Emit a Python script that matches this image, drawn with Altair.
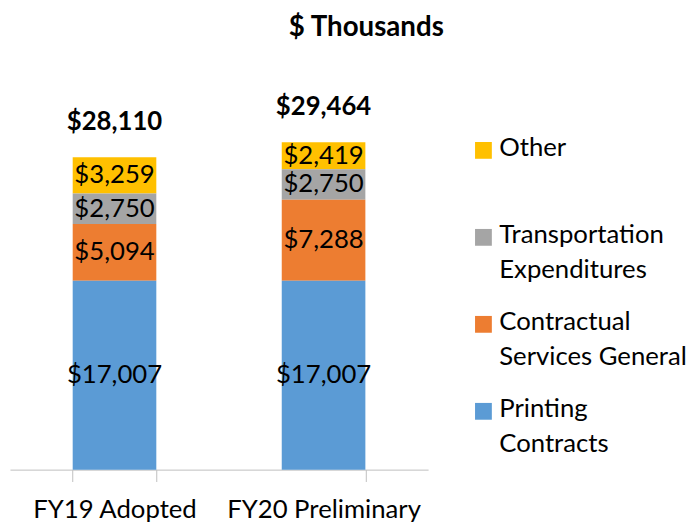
import altair as alt
import pandas as pd

categories = ["FY19 Adopted", "FY20 Preliminary"]
series = ["Other", "Transportation Expenditures", "Contractual Services General", "Printing Contracts"]
colors = ["#FFC000", "#A5A5A5", "#ED7D31", "#5B9BD5"]
stack_order = [3, 2, 1, 0]
values = {
    "Printing Contracts": [17007, 17007],
    "Contractual Services General": [5094, 7288],
    "Transportation Expenditures": [2750, 2750],
    "Other": [3259, 2419],
}
totals = [28110, 29464]

rows = []
for s, o in zip(series, stack_order):
    for c, v in zip(categories, values[s]):
        rows.append({"cat": c, "series": s, "value": v, "ord": o})
df = pd.DataFrame(rows)
tot_df = pd.DataFrame({"cat": categories, "total": totals})

FONT = "Lato"
ymax = 36650
LEG_DY = -15

x_enc = alt.X("cat:N", sort=categories, title=None,
              scale=alt.Scale(paddingInner=0.6, paddingOuter=0.3),
              axis=alt.Axis(labelFontSize=26, labelColor="black", labelFont=FONT,
                            domainColor="#BFBFBF", tickColor="#BFBFBF", tickSize=12,
                            tickBand="extent", labelPadding=15 - LEG_DY, labelAngle=0,
                            labelLimit=400))
y_scale = alt.Scale(domain=[0, ymax])

label_expr = ("datum.label == 'Other' ? ['Other', ' '] : "
              "datum.label == 'Transportation Expenditures' ? ['Transportation', 'Expenditures'] : "
              "datum.label == 'Contractual Services General' ? ['Contractual', 'Services General'] : "
              "['Printing', 'Contracts']")

bars = alt.Chart(df).mark_bar().encode(
    x=x_enc,
    y=alt.Y("value:Q", stack="zero", scale=y_scale, axis=None),
    color=alt.Color("series:N", scale=alt.Scale(domain=series, range=colors),
                    legend=alt.Legend(title=None, orient="none", legendX=466, legendY=76,
                                      symbolType="square", symbolSize=289, symbolStrokeWidth=0,
                                      labelFontSize=26, labelFont=FONT, labelColor="black",
                                      labelOffset=3, labelLimit=300, rowPadding=27,
                                      labelBaseline="top", padding=0, labelExpr=label_expr)),
    order=alt.Order("ord:Q"),
)

seg_text = alt.Chart(df).mark_text(fontSize=26, font=FONT, color="black", baseline="middle").encode(
    x=alt.X("cat:N", sort=categories),
    y=alt.Y("value:Q", stack="zero", bandPosition=0.5, scale=y_scale),
    text=alt.Text("value:Q", format="$,.0f"),
    order=alt.Order("ord:Q"),
)

tot_text = alt.Chart(tot_df).mark_text(fontSize=26, font=FONT, fontWeight="bold", color="black",
                                        baseline="alphabetic", dy=-28).encode(
    x=alt.X("cat:N", sort=categories),
    y=alt.Y("total:Q", scale=y_scale),
    text=alt.Text("total:Q", format="$,.0f"),
)

chart = alt.layer(bars, seg_text, tot_text).properties(
    width=423, height=412,
    title=alt.Title("$ Thousands", fontSize=28, font=FONT, fontWeight="bold", color="black",
                    anchor="middle", dx=149, offset=21),
    autosize=alt.AutoSizeParams(type="none"),
    padding={"left": 2, "top": 52, "right": 267, "bottom": 56},
).configure(
    style={"guide-label": {"lineHeight": 35, "dy": LEG_DY}},
    view={"stroke": None},
)

chart.save("out.html", embed_options={"renderer": "svg", "actions": False})
